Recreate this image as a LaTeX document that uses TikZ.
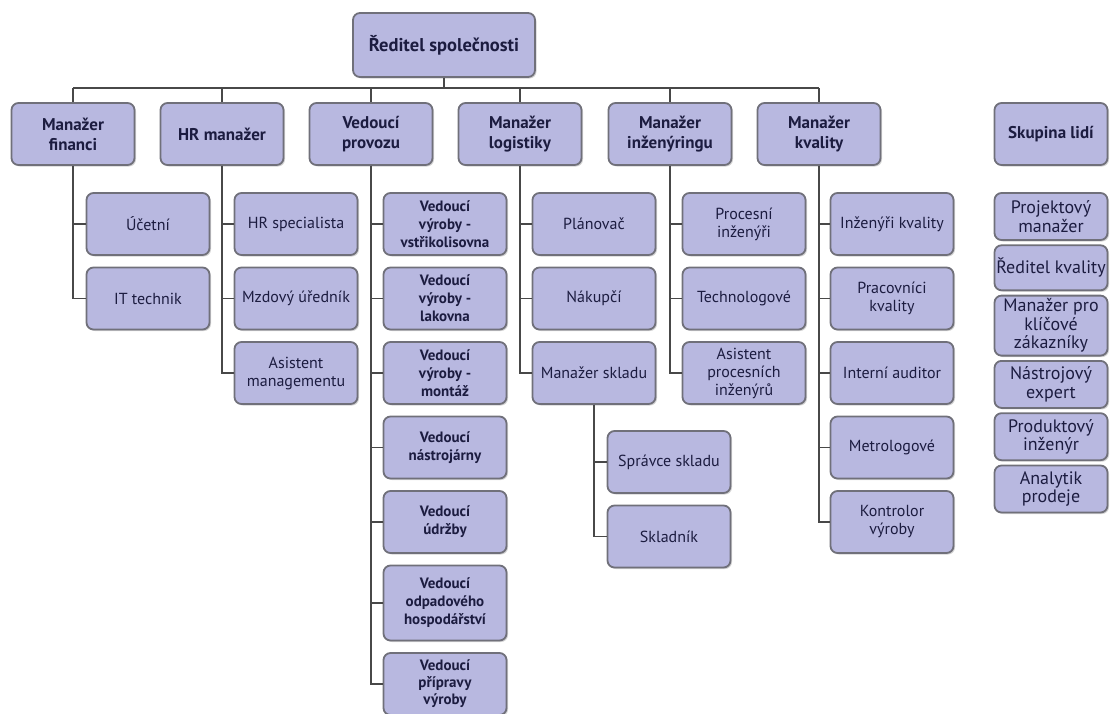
\documentclass[tikz,border=0pt]{standalone}
\usepackage{fontspec}
\setmainfont{PT Sans}
\usetikzlibrary{positioning,shadows}
\definecolor{boxfill}{RGB}{184,184,224}
\definecolor{boxline}{RGB}{112,112,122}
\definecolor{boxtext}{RGB}{28,28,64}
\definecolor{linkline}{RGB}{72,72,72}
\begin{document}
\begin{tikzpicture}[x=1pt,y=-1pt,node distance=10.7pt,
    box/.style={rectangle,rounded corners=7pt,draw=boxline,line width=1.8pt,fill=boxfill,text=boxtext,align=center,inner sep=2pt,minimum width=123pt,minimum height=62pt,drop shadow={shadow xshift=1.5pt,shadow yshift=-1.5pt,opacity=0.35},font=\fontsize{16}{18}\selectfont},
    lead node/.style={box,font=\fontsize{15}{18}\selectfont\bfseries},
    head node/.style={box,font=\fontsize{17}{20}\selectfont\bfseries},
    group node/.style={box,minimum width=113pt,minimum height=47pt,inner sep=0.5pt,font=\fontsize{18}{18.5}\selectfont},
    link/.style={draw=linkline,line width=1.6pt}]
    \useasboundingbox (0,0) rectangle (1110,713);
    \node[box,font=\fontsize{18.5}{20}\selectfont\bfseries,minimum width=182pt,minimum height=64pt] (ceo) at (444,45) {Ředitel společnosti};
    \node[head node] (fin) at (73,134) {Manažer\\financi};
    \node[head node] (hr) at (222,134) {HR manažer};
    \node[head node] (prov) at (371,134) {Vedoucí\\provozu};
    \node[head node] (log) at (520,134) {Manažer\\logistiky};
    \node[head node] (inz) at (670,134) {Manažer\\inženýringu};
    \node[head node] (kval) at (819,134) {Manažer\\kvality};
    \node[head node,minimum width=113pt] (grp) at (1051,134) {Skupina lidí};
    % finance, HR
    \node[box] (ucet) at (148,224) {Účetní};
    \node[box,below=of ucet] (it) {IT technik};
    \node[box] (hrspec) at (296,224) {HR specialista};
    \node[box,below=of hrspec] (mzdy) {Mzdový úředník};
    \node[box,below=of mzdy] (asman) {Asistent\\managementu};
    % provoz
    \node[lead node] (vstrik) at (445,224) {Vedoucí\\výroby -\\vstřikolisovna};
    \node[lead node,below=of vstrik] (lak) {Vedoucí\\výroby -\\lakovna};
    \node[lead node,below=of lak] (mont) {Vedoucí\\výroby -\\montáž};
    \node[lead node,below=of mont] (nastroj) {Vedoucí\\nástrojárny};
    \node[lead node,below=of nastroj] (udrz) {Vedoucí\\údržby};
    \node[lead node,below=of udrz,minimum height=75pt] (odpad) {Vedoucí\\odpadového\\hospodářství};
    \node[lead node,below=of odpad,font=\fontsize{15}{17}\selectfont\bfseries] (prip) {Vedoucí\\přípravy\\výroby};
    % logistika
    \node[box] (plan) at (594,224) {Plánovač};
    \node[box,below=of plan] (nakup) {Nákupčí};
    \node[box,below=of nakup] (sklad) {Manažer skladu};
    \node[box] (spravce) at (669,462) {Správce skladu};
    \node[box,below=of spravce] (skladnik) {Skladník};
    % inzenyring
    \node[box] (proc) at (744,224) {Procesní\\inženýři};
    \node[box,below=of proc] (techn) {Technologové};
    \node[box,below=of techn] (asproc) {Asistent\\procesních\\inženýrů};
    % kvalita
    \node[box] (inzkv) at (892,224) {Inženýři kvality};
    \node[box,below=of inzkv] (prackv) {Pracovníci\\kvality};
    \node[box,below=of prackv] (audit) {Interní auditor};
    \node[box,below=of audit] (metro) {Metrologové};
    \node[box,below=of metro] (kontr) {Kontrolor\\výroby};
    % skupina lidi
    \node[group node] (proj) at (1051,216.5) {Projektový\\manažer};
    \node[group node,below=3.5pt of proj,minimum height=45pt] (redkv) {Ředitel kvality};
    \node[group node,below=3.5pt of redkv,minimum height=60pt] (klic) {Manažer pro\\klíčové\\zákazníky};
    \node[group node,below=3.5pt of klic] (nastr) {Nástrojový\\expert};
    \node[group node,below=3.5pt of nastr] (prod) {Produktový\\inženýr};
    \node[group node,below=3.5pt of prod] (anal) {Analytik\\prodeje};
    % connectors
    \coordinate (bus) at (0,88);
    \draw[link] (ceo.south) -- (ceo.south |- bus);
    \draw[link] (fin.north |- bus) -- (kval.north |- bus);
    \foreach \n in {fin,hr,prov,log,inz,kval}
        \draw[link] (\n.north |- bus) -- (\n.north);
    \foreach \p/\c in {fin/ucet,fin/it,hr/hrspec,hr/mzdy,hr/asman,
        prov/vstrik,prov/lak,prov/mont,prov/nastroj,prov/udrz,prov/odpad,prov/prip,
        log/plan,log/nakup,log/sklad,sklad/spravce,sklad/skladnik,
        inz/proc,inz/techn,inz/asproc,
        kval/inzkv,kval/prackv,kval/audit,kval/metro,kval/kontr}
        \draw[link] (\p.south) |- (\c.west);
\end{tikzpicture}
\end{document}
